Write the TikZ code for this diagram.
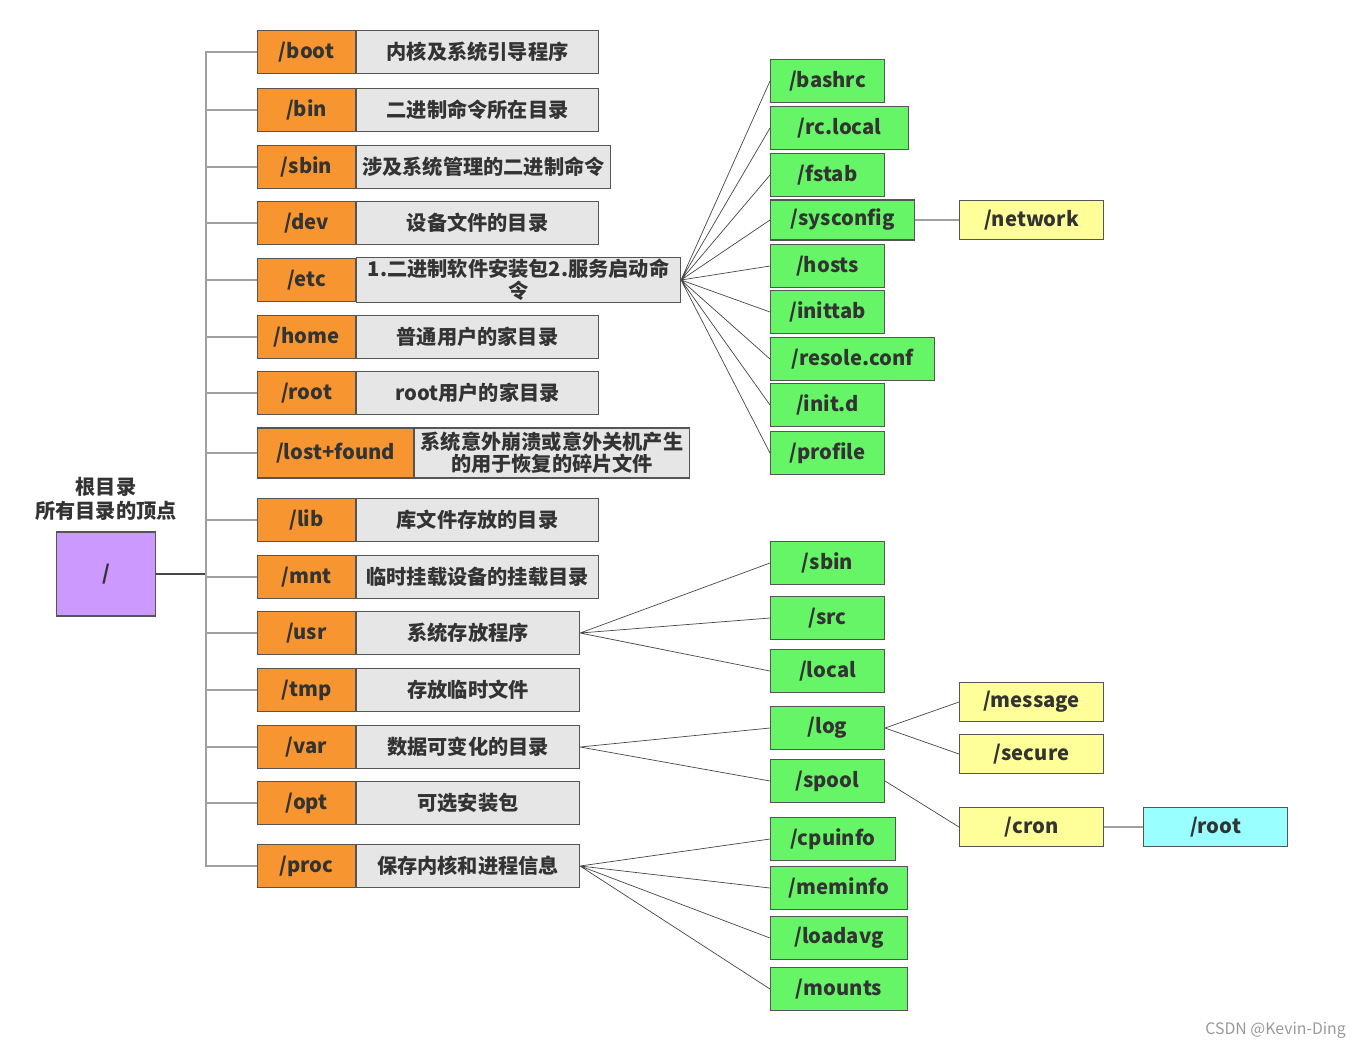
\documentclass[tikz,border=0pt]{standalone}
\usepackage{fontspec}
\setmainfont{Noto Sans CJK SC}
\usepackage{xcolor}
\usepackage{tikz}
\usetikzlibrary{positioning}

\definecolor{dirorange}{RGB}{247,150,48}
\definecolor{descgray}{RGB}{230,230,230}
\definecolor{leafgreen}{RGB}{102,245,102}
\definecolor{subyellow}{RGB}{255,255,153}
\definecolor{subcyan}{RGB}{153,255,255}
\definecolor{rootpurple}{RGB}{204,153,255}
\definecolor{boxline}{RGB}{85,85,85}
\definecolor{txtgray}{RGB}{51,51,51}
\definecolor{linegray}{RGB}{160,160,160}
\definecolor{linedark}{RGB}{70,70,70}

\tikzset{
  box/.style={draw=boxline, line width=0.6pt, inner sep=1pt, text=txtgray, align=center,
    font=\fontsize{11.5}{12.5}\selectfont\bfseries},
  dirbox/.style={box, fill=dirorange, minimum width=1.96cm, minimum height=0.86cm, anchor=west},
  descbox/.style={box, fill=descgray, minimum height=0.86cm},
  leaf/.style={box, fill=leafgreen, minimum width=2.28cm, minimum height=0.86cm, anchor=west},
  subleaf/.style={box, fill=subyellow, minimum width=2.88cm, minimum height=0.78cm, anchor=west},
  branch/.style={draw=linegray, line width=0.8pt},
  link/.style={draw=linedark, line width=0.4pt},
}

\begin{document}
\begin{tikzpicture}[x=0.02cm, y=-0.02cm]
    \useasboundingbox (0,0) rectangle (1365,1049);

    % Root
    \node[box, fill=rootpurple, minimum width=1.98cm, minimum height=1.68cm] (root) at (106,574) {/};
    \node[text=txtgray, align=center, inner sep=0pt, above=6pt of root,
      font=\fontsize{11.5}{13.5}\selectfont\bfseries] (rootlbl) {根目录\\所有目录的顶点};
    \coordinate (hub) at (206,574);

    % First-level directories
    \node[dirbox] (boot) at (257,52) {/boot};
    \node[descbox, minimum width=4.84cm, right=0pt of boot] (bootd) {内核及系统引导程序};
    \node[dirbox] (bin) at (257,110) {/bin};
    \node[descbox, minimum width=4.84cm, right=0pt of bin] (bind) {二进制命令所在目录};
    \node[dirbox] (sbin) at (257,167) {/sbin};
    \node[descbox, minimum width=5.08cm, right=0pt of sbin] (sbind) {涉及系统管理的二进制命令};
    \node[dirbox] (dev) at (257,223) {/dev};
    \node[descbox, minimum width=4.84cm, right=0pt of dev] (devd) {设备文件的目录};
    \node[dirbox] (etc) at (257,280) {/etc};
    \node[descbox, minimum width=6.48cm, right=0pt of etc] (etcd) {1.二进制软件安装包2.服务启动命\\令};
    \node[dirbox] (home) at (257,337) {/home};
    \node[descbox, minimum width=4.84cm, right=0pt of home] (homed) {普通用户的家目录};
    \node[dirbox] (root1) at (257,393) {/root};
    \node[descbox, minimum width=4.84cm, right=0pt of root1] (root1d) {root用户的家目录};
    \node[dirbox, minimum width=3.12cm, minimum height=1cm] (lost) at (257,453) {/lost+found};
    \node[descbox, minimum width=5.5cm, minimum height=1cm, right=0pt of lost] (lostd) {系统意外崩溃或意外关机产生\\的用于恢复的碎片文件};
    \node[dirbox] (lib) at (257,520) {/lib};
    \node[descbox, minimum width=4.84cm, right=0pt of lib] (libd) {库文件存放的目录};
    \node[dirbox] (mnt) at (257,577) {/mnt};
    \node[descbox, minimum width=4.84cm, right=0pt of mnt] (mntd) {临时挂载设备的挂载目录};
    \node[dirbox] (usr) at (257,633) {/usr};
    \node[descbox, minimum width=4.46cm, right=0pt of usr] (usrd) {系统存放程序};
    \node[dirbox] (tmp) at (257,690) {/tmp};
    \node[descbox, minimum width=4.46cm, right=0pt of tmp] (tmpd) {存放临时文件};
    \node[dirbox] (var) at (257,747) {/var};
    \node[descbox, minimum width=4.46cm, right=0pt of var] (vard) {数据可变化的目录};
    \node[dirbox] (opt) at (257,803) {/opt};
    \node[descbox, minimum width=4.46cm, right=0pt of opt] (optd) {可选安装包};
    \node[dirbox] (proc) at (257,866) {/proc};
    \node[descbox, minimum width=4.46cm, right=0pt of proc] (procd) {保存内核和进程信息};

    % Tree lines from root
    \draw[linedark, line width=1.3pt] (root.east) -- (hub);
    \draw[branch] (hub) |- (boot.west) (hub) |- (bin.west) (hub) |- (sbin.west)
      (hub) |- (dev.west) (hub) |- (etc.west) (hub) |- (home.west) (hub) |- (root1.west)
      (hub) |- (lost.west) (hub) |- (lib.west) (hub) |- (mnt.west) (hub) |- (usr.west)
      (hub) |- (tmp.west) (hub) |- (var.west) (hub) |- (opt.west) (hub) |- (proc.west);

    % Under /etc
    \node[leaf] (bashrc) at (770,81) {/bashrc};
    \node[leaf, minimum width=2.76cm] (rclocal) at (770,128) {/rc.local};
    \node[leaf] (fstab) at (770,175) {/fstab};
    \node[leaf, minimum width=2.88cm, minimum height=0.8cm] (sysconfig) at (770,220) {/sysconfig};
    \node[leaf] (hosts) at (770,266) {/hosts};
    \node[leaf] (inittab) at (770,312) {/inittab};
    \node[leaf, minimum width=3.28cm] (resolv) at (770,359) {/resole.conf};
    \node[leaf] (initd) at (770,405) {/init.d};
    \node[leaf] (profile) at (770,453) {/profile};
    \node[subleaf] (network) at (959,220) {/network};
    \draw[link] (etcd.east) -- (bashrc.west) (etcd.east) -- (rclocal.west)
      (etcd.east) -- (fstab.west) (etcd.east) -- (sysconfig.west) (etcd.east) -- (hosts.west)
      (etcd.east) -- (inittab.west) (etcd.east) -- (resolv.west) (etcd.east) -- (initd.west)
      (etcd.east) -- (profile.west);
    \draw[branch] (sysconfig.east) -- (network.west);

    % Under /usr
    \node[leaf] (usbin) at (770,563) {/sbin};
    \node[leaf] (src) at (770,618) {/src};
    \node[leaf] (local) at (770,671) {/local};
    \draw[link] (usrd.east) -- (usbin.west) (usrd.east) -- (src.west) (usrd.east) -- (local.west);

    % Under /var
    \node[leaf] (log) at (770,728) {/log};
    \node[leaf] (spool) at (770,781) {/spool};
    \node[subleaf] (message) at (959,702) {/message};
    \node[subleaf] (secure) at (959,754) {/secure};
    \node[subleaf] (cron) at (959,827) {/cron};
    \node[subleaf, fill=subcyan] (cronroot) at (1143,827) {/root};
    \draw[link] (vard.east) -- (log.west) (vard.east) -- (spool.west);
    \draw[link] (log.east) -- (message.west) (log.east) -- (secure.west);
    \draw[link] (spool.east) -- (cron.west);
    \draw[branch] (cron.east) -- (cronroot.west);

    % Under /proc
    \node[leaf, minimum width=2.5cm] (cpuinfo) at (770,839) {/cpuinfo};
    \node[leaf, minimum width=2.74cm] (meminfo) at (770,888) {/meminfo};
    \node[leaf, minimum width=2.74cm] (loadavg) at (770,938) {/loadavg};
    \node[leaf, minimum width=2.74cm] (mounts) at (770,989) {/mounts};
    \draw[link] (procd.east) -- (cpuinfo.west) (procd.east) -- (meminfo.west)
      (procd.east) -- (loadavg.west) (procd.east) -- (mounts.west);

    % Watermark
    \node[anchor=east, text=gray!80, font=\fontsize{9}{10}\selectfont] (wm) at (1352,1030) {CSDN @Kevin-Ding};
\end{tikzpicture}
\end{document}
